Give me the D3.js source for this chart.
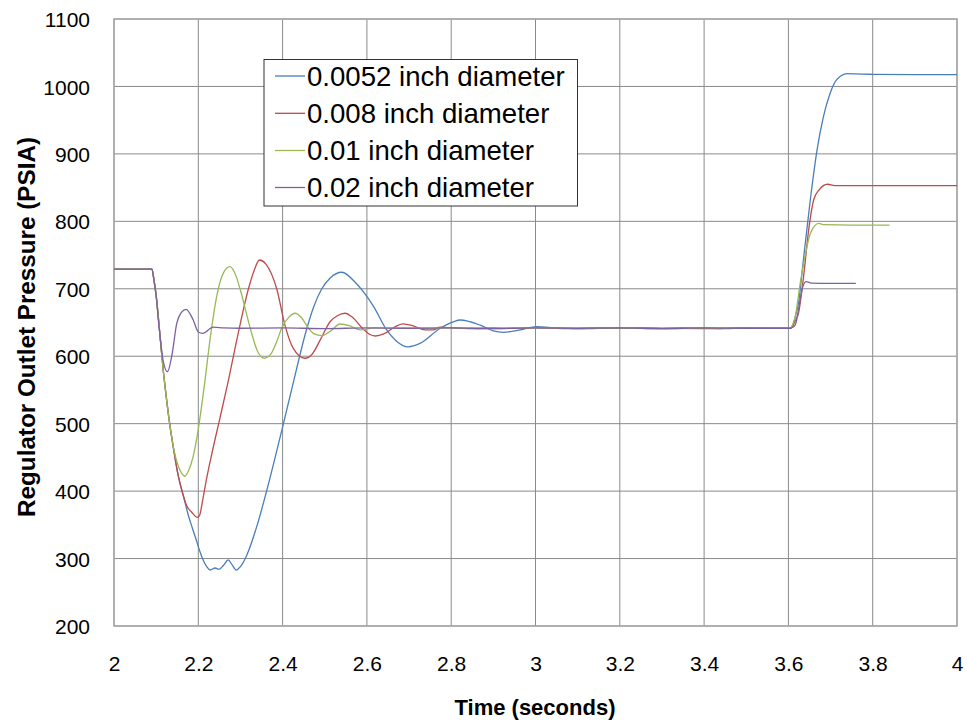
<!DOCTYPE html>
<html>
<head>
<meta charset="utf-8">
<script src="https://cdn.jsdelivr.net/npm/d3@7"></script>
<style>
  html, body { margin: 0; padding: 0; background: #fff; }
  svg { display: block; }
  text { font-family: "Liberation Sans", Arial, sans-serif; fill: #000; }
</style>
</head>
<body>
<svg id="chart" width="967" height="723"></svg>
<script>
// ---------- data ----------
const seriesNames = ["0.0052 inch diameter", "0.008 inch diameter", "0.01 inch diameter", "0.02 inch diameter"];
const seriesColors = ["#4A7EBB", "#BE4B48", "#98B954", "#7D60A0"];
const xTicks = [2, 2.2, 2.4, 2.6, 2.8, 3, 3.2, 3.4, 3.6, 3.8, 4];
const yTicks = [200, 300, 400, 500, 600, 700, 800, 900, 1000, 1100];

const tBlue = [2.0,2.05,2.085,2.09,2.095,2.1,2.11,2.117,2.123,2.131,2.142,2.152,2.165,2.176,2.186,2.196,2.204,2.212,2.22,2.228,2.24,2.249,2.26,2.271,2.28,2.29,2.3,2.315,2.339,2.362,2.4,2.422,2.457,2.473,2.493,2.513,2.54,2.576,2.596,2.616,2.647,2.671,2.698,2.726,2.774,2.805,2.821,2.869,2.9,2.924,2.964,3.003,3.05,3.1,3.15,3.2,3.25,3.3,3.35,3.4,3.45,3.5,3.55,3.605,3.61,3.616,3.624,3.636,3.652,3.668,3.683,3.699,3.711,3.723,3.739,3.76,3.8,3.9,4.0];
const pBlue = [729,729,729,729,712,690,625,578,545,505,460,424,392,365,345,326,310,297,288,283,286,284,290,298,291,283,288,305,348,400,495,552,640,672,700,716,724.5,707,692,673.5,639,622,614,619,641.5,651,653.7,646,637.6,635.5,639,644,642,641,642,641.5,642,641,642,641.5,641,642,641.5,641.5,645,658,679,745,832,906,955,990,1007,1015,1019,1018.5,1018,1017.5,1017.5];

const tRed = [2.0,2.05,2.085,2.09,2.095,2.1,2.11,2.117,2.123,2.131,2.142,2.152,2.165,2.172,2.184,2.198,2.203,2.21,2.218,2.233,2.249,2.27,2.295,2.319,2.333,2.345,2.36,2.386,2.406,2.425,2.453,2.47,2.49,2.513,2.53,2.548,2.565,2.59,2.605,2.62,2.64,2.665,2.686,2.71,2.738,2.757,2.774,2.8,2.85,2.9,2.95,3.0,3.1,3.2,3.3,3.4,3.5,3.605,3.61,3.616,3.624,3.636,3.648,3.66,3.672,3.693,3.71,3.8,4.0];
const pRed = [729,729,729,729,712,690,625,578,545,505,460,424,392,379,369,361,364,385,413,458,502,560,635,700,728,742.7,737,700,645,612,597,603,625,651.5,660,663.7,658,641,633,630,633,643,648,645,639,639,643,642,641,642,641.5,642,641,642,641.5,641,642,641.5,645,652,664,718,787,832,846,855,853,853,853];

const tGreen = [2.0,2.05,2.085,2.09,2.095,2.1,2.11,2.117,2.123,2.131,2.142,2.152,2.16,2.168,2.178,2.188,2.2,2.214,2.23,2.244,2.26,2.275,2.29,2.299,2.323,2.34,2.356,2.372,2.385,2.398,2.415,2.43,2.445,2.461,2.475,2.493,2.515,2.536,2.56,2.584,2.62,2.7,2.8,2.9,3.0,3.1,3.2,3.3,3.4,3.5,3.605,3.61,3.616,3.628,3.64,3.652,3.672,3.685,3.75,3.84];
const pGreen = [729,729,729,729,712,690,625,578,545,505,462,438,427,422,432,452,492,555,635,690,724,732.7,718,700,642,608,597,603,620,642,658,663.7,657,642,633,630.5,638,647.8,645,639,642,641.5,642,641,642,641.5,642,641,642,641.5,641.5,647,658,708,750,782,797,795,794.5,794.5];

const tPurple = [2.0,2.05,2.085,2.09,2.095,2.1,2.105,2.11,2.117,2.127,2.137,2.149,2.16,2.171,2.188,2.2,2.21,2.236,2.26,2.3,2.4,2.5,2.6,2.7,2.8,2.9,3.0,3.1,3.2,3.3,3.4,3.5,3.605,3.61,3.616,3.624,3.632,3.642,3.655,3.7,3.76];
const pPurple = [729,729,729,729,712,690,655,625,592,577,600,649,665,669.6,653.7,636,634,643,642,641.5,642,641,642,641.5,642,641,642,641.5,642,641,642,641.5,641.5,643,646,669,698,710.5,708.5,708,708];

const seriesT = [tBlue, tRed, tGreen, tPurple];
const seriesP = [pBlue, pRed, pGreen, pPurple];

// ---------- layout ----------
const svg = d3.select("#chart");
const L = 114, R = 957, T = 19, B = 626;
const x = d3.scaleLinear().domain([2, 4]).range([L, R]);
const y = d3.scaleLinear().domain([200, 1100]).range([B, T]);

// grid
const g = svg.append("g");
g.selectAll("line.vg").data(xTicks).enter().append("line")
  .attr("x1", d => x(d)).attr("x2", d => x(d)).attr("y1", T).attr("y2", B)
  .attr("stroke", "#8a8a8a").attr("stroke-width", 1);
g.selectAll("line.hg").data(yTicks).enter().append("line")
  .attr("x1", L).attr("x2", R).attr("y1", d => y(d)).attr("y2", d => y(d))
  .attr("stroke", "#8a8a8a").attr("stroke-width", 1);

// border
svg.append("rect").attr("x", L).attr("y", T).attr("width", R - L).attr("height", B - T)
  .attr("fill", "none").attr("stroke", "#a8a8a8").attr("stroke-width", 1.5);

// axes labels via d3 axes (no lines)
const xAxis = d3.axisBottom(x).tickValues(xTicks).tickSize(0).tickPadding(0).tickFormat(d3.format("~g"));
const xa = svg.append("g").attr("transform", `translate(0,${B})`).call(xAxis);
xa.select(".domain").remove();
xa.selectAll("text").attr("dy", null).attr("y", 45).style("font-size", "21px")
  .style("font-family", "'Liberation Sans', Arial, sans-serif").attr("fill", "#000");

const yAxis = d3.axisLeft(y).tickValues(yTicks).tickSize(0).tickPadding(0).tickFormat(d3.format("d"));
const ya = svg.append("g").attr("transform", `translate(90,0)`).call(yAxis);
ya.select(".domain").remove();
ya.selectAll("text").attr("dy", "0.36em").attr("x", 0).style("font-size", "21px")
  .style("font-family", "'Liberation Sans', Arial, sans-serif").attr("fill", "#000");

// lines
const line = d3.line().x(d => x(d[0])).y(d => y(d[1])).curve(d3.curveMonotoneX);
const plot = svg.append("g");
seriesT.forEach((ts, i) => {
  const pts = ts.map((t, j) => [t, seriesP[i][j]]);
  plot.append("path").datum(pts).attr("d", line)
    .attr("fill", "none").attr("stroke", seriesColors[i]).attr("stroke-width", 1.3)
    .attr("stroke-linejoin", "round");
});

// axis titles
svg.append("text").attr("x", 535).attr("y", 715).attr("text-anchor", "middle")
  .style("font-size", "22px").style("font-weight", "bold").text("Time (seconds)");
svg.append("text").attr("transform", "translate(35,327) rotate(-90)").attr("text-anchor", "middle")
  .style("font-size", "23px").style("font-weight", "bold")
  .attr("textLength", 380).attr("lengthAdjust", "spacingAndGlyphs")
  .text("Regulator Outlet Pressure (PSIA)");

// legend
const lg = svg.append("g");
lg.append("rect").attr("x", 264).attr("y", 59.5).attr("width", 313.5).attr("height", 146.5)
  .attr("fill", "#fff").attr("stroke", "#333").attr("stroke-width", 1);
const ly = [76, 113.3, 150.5, 187.5];
seriesNames.forEach((n, i) => {
  lg.append("line").attr("x1", 275).attr("x2", 305).attr("y1", ly[i]).attr("y2", ly[i])
    .attr("stroke", seriesColors[i]).attr("stroke-width", 1.3);
  lg.append("text").attr("x", 307).attr("y", ly[i]).attr("dy", "0.36em")
    .style("font-size", "27.6px").text(n);
});
</script>
</body>
</html>
